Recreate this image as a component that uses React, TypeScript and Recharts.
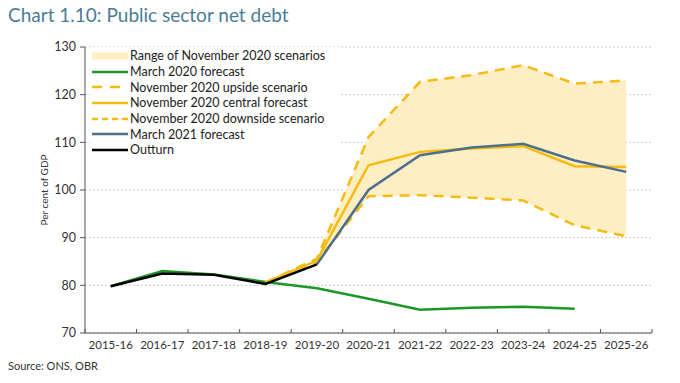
import { Area, CartesianGrid, ComposedChart, Line, XAxis, YAxis } from 'recharts'

const years = ['2015-16', '2016-17', '2017-18', '2018-19', '2019-20', '2020-21', '2021-22', '2022-23', '2023-24', '2024-25', '2025-26']
const outturn = [79.8, 82.5, 82.2, 80.3, 84.4, null, null, null, null, null, null]
const march2020 = [79.8, 83.0, 82.3, 80.7, 79.4, 77.2, 74.9, 75.3, 75.5, 75.1, null]
const novCentral = [null, null, null, 80.6, 85.2, 105.2, 108.0, 108.7, 109.2, 105.0, 104.8]
const novUpside = [null, null, null, 80.6, 85.0, 98.7, 98.9, 98.4, 97.8, 92.6, 90.3]
const novDownside = [null, null, null, 80.6, 85.6, 111.1, 122.7, 124.1, 126.2, 122.3, 123.0]
const march2021 = [null, null, null, null, 84.4, 100.0, 107.3, 108.9, 109.7, 106.2, 103.8]
const yTicks = [70, 80, 90, 100, 110, 120, 130]

const data = years.map((year, i) => ({
  year,
  outturn: outturn[i],
  march2020: march2020[i],
  central: novCentral[i],
  upside: novUpside[i],
  downside: novDownside[i],
  march2021: march2021[i],
  range: i >= 4 && novUpside[i] != null ? [novUpside[i], novDownside[i]] : null,
}))

const YELLOW = '#f6bb10'
const GREEN = '#1d9628'
const BLUE = '#4d6f8c'
const RANGE = '#feeec4'
const FONT = 'Lato, "Open Sans", sans-serif'

const legendItems = [
  { name: 'Range of November 2020 scenarios', color: RANGE, width: 7, dash: '' },
  { name: 'March 2020 forecast', color: GREEN, width: 2.5, dash: '' },
  { name: 'November 2020 upside scenario', color: YELLOW, width: 2.5, dash: '10 8' },
  { name: 'November 2020 central forecast', color: YELLOW, width: 2.5, dash: '' },
  { name: 'November 2020 downside scenario', color: YELLOW, width: 2.5, dash: '6 4' },
  { name: 'March 2021 forecast', color: BLUE, width: 2.5, dash: '' },
  { name: 'Outturn', color: '#000', width: 2.5, dash: '' },
]

// labels sit at band centres, tick marks at band edges pointing up
function XTick(props: any) {
  const { y, payload, index, visibleTicksCount } = props
  const x = payload.coordinate
  const half = payload.offset || 0
  const axisY = y - 8
  return (
    <g>
      <line x1={x - half} x2={x - half} y1={axisY} y2={axisY - 4} stroke="#555" />
      {index === visibleTicksCount - 1 && (
        <line x1={x + half} x2={x + half} y1={axisY} y2={axisY - 4} stroke="#555" />
      )}
      <text x={x} y={y} dy="0.71em" textAnchor="middle" fontSize={11.5} fill="#333" fontFamily={FONT}>
        {payload.value}
      </text>
    </g>
  )
}

export default function App() {
  return (
    <div style={{ position: 'relative', width: 680, height: 383, margin: -8, background: '#fff', fontFamily: FONT, overflow: 'hidden' }}>
      <div style={{ position: 'absolute', left: 8, top: 3, fontSize: 19, color: '#4a7c96' }}>
        Chart 1.10: Public sector net debt
      </div>
      <ComposedChart width={680} height={383} data={data} margin={{ top: 47, right: 28, left: 0, bottom: 20 }}>
        <CartesianGrid vertical={false} stroke="#c8c8c8" strokeDasharray="2 2" />
        <XAxis
          dataKey="year"
          scale="band"
          height={30}
          tickLine={false}
          tickSize={4}
          tickMargin={4}
          tick={<XTick />}
          axisLine={{ stroke: '#555' }}
          interval={0}
        />
        <YAxis
          width={85}
          domain={[70, 130]}
          ticks={yTicks}
          tick={{ fontSize: 12.5, fill: '#333', fontFamily: FONT }}
          tickSize={5}
          tickMargin={4}
          axisLine={{ stroke: '#555' }}
          tickLine={{ stroke: '#555' }}
          label={{
            content: (p: any) => {
              const vb = p.viewBox
              const cx = vb.x + 48
              const cy = vb.y + vb.height / 2
              return (
                <text x={cx} y={cy} transform={`rotate(-90 ${cx} ${cy})`} textAnchor="middle" fontSize={10} fill="#333" fontFamily={FONT}>
                  Per cent of GDP
                </text>
              )
            },
          }}
        />
        <Area dataKey="range" fill={RANGE} fillOpacity={1} stroke="none" isAnimationActive={false} connectNulls={false} />
        <Line dataKey="march2020" stroke={GREEN} strokeWidth={2.5} dot={false} isAnimationActive={false} />
        <Line dataKey="upside" stroke={YELLOW} strokeWidth={2.5} strokeDasharray="10 7" dot={false} isAnimationActive={false} />
        <Line dataKey="downside" stroke={YELLOW} strokeWidth={2.5} strokeDasharray="10 7" dot={false} isAnimationActive={false} />
        <Line dataKey="central" stroke={YELLOW} strokeWidth={2.5} dot={false} isAnimationActive={false} />
        <Line dataKey="march2021" stroke={BLUE} strokeWidth={2.5} dot={false} isAnimationActive={false} />
        <Line dataKey="outturn" stroke="#000" strokeWidth={2.5} dot={false} isAnimationActive={false} />
      </ComposedChart>
      <div style={{ position: 'absolute', left: 90, top: 47, width: 250, background: '#fff', padding: '1px 0' }}>
        {legendItems.map((it) => (
          <div key={it.name} style={{ display: 'flex', alignItems: 'center', height: 15.7, fontSize: 12.5, color: '#222' }}>
            <svg width={38} height={10} style={{ marginRight: 2 }}>
              <line x1={2} x2={38} y1={5} y2={5} stroke={it.color} strokeWidth={it.width} strokeDasharray={it.dash || undefined} />
            </svg>
            <span>{it.name}</span>
          </div>
        ))}
      </div>
      <div style={{ position: 'absolute', left: 8, top: 359, fontSize: 11, color: '#333' }}>Source: ONS, OBR</div>
    </div>
  )
}
